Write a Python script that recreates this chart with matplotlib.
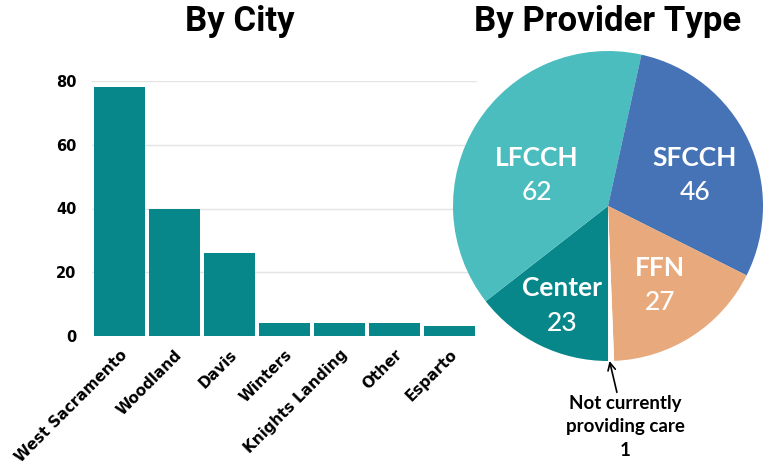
import numpy as np
import matplotlib.pyplot as plt

cities = ["West Sacramento", "Woodland", "Davis", "Winters", "Knights Landing", "Other", "Esparto"]
city_counts = [78, 40, 26, 4, 4, 4, 3]
city_ticks = [0, 20, 40, 60, 80]

provider_types = ["Center", "LFCCH", "SFCCH", "FFN", "Not currently\nproviding care"]
provider_counts = [23, 62, 46, 27, 1]

TEAL = "#07878a"
PIE_COLORS = ["#07878a", "#4bbdbf", "#4673b5", "#e8aa7d", "#ffffff"]

fig = plt.figure(figsize=(7.7, 4.68), dpi=100)
W, H = 770, 468


def px_axes(x0, y0, x1, y1):
    # pixel box (top-left origin) -> figure axes
    return fig.add_axes([x0 / W, 1 - y1 / H, (x1 - x0) / W, (y1 - y0) / H])


# --- bar chart ---
ax = px_axes(92, 81, 477, 336)
x = np.arange(len(cities))
ax.bar(x, city_counts, width=0.93, color=TEAL, zorder=3)
ax.set_xlim(-0.5, len(cities) - 0.5)
ax.set_ylim(0, 80)
ax.set_yticks(city_ticks)
ax.set_yticklabels([str(t) for t in city_ticks], fontsize=10.5, fontweight="bold",
                   family="DejaVu Sans")
ax.set_xticks(x)
ax.set_xticklabels(cities, rotation=45, ha="right", rotation_mode="anchor",
                   fontsize=11, fontweight="bold", family="DejaVu Sans")
ax.tick_params(axis="both", length=0)
ax.tick_params(axis="y", pad=11)
ax.tick_params(axis="x", pad=8)
ax.grid(axis="y", color="#e4e4e4", linewidth=1, zorder=0)
for s in ax.spines.values():
    s.set_visible(False)
fig.text(240 / W, 1 - 22 / H, "By City", ha="center", va="center",
         fontsize=25, fontweight="bold", family="Roboto")

# --- pie chart ---
pax = px_axes(608 - 155, 206 - 155, 608 + 155, 206 + 155)
wedges, _ = pax.pie(provider_counts, colors=PIE_COLORS, startangle=-90,
                    counterclock=False, radius=1.0,
                    wedgeprops=dict(linewidth=0))
pax.set_xlim(-1, 1)
pax.set_ylim(-1, 1)
pax.set_aspect("equal")

# label centres inside the wedges (pie units)
label_pos = [(-0.297, -0.64), (-0.458, 0.20), (0.561, 0.20), (0.335, -0.51)]
for name, val, (cx, cy) in zip(provider_types[:4], provider_counts[:4], label_pos):
    pax.text(cx, cy + 0.11, name, ha="center", va="center", color="white",
             fontsize=19, fontweight="bold", family="Lato")
    pax.text(cx, cy - 0.115, str(val), ha="center", va="center", color="white",
             fontsize=19, fontweight="medium", family="Lato")

w = wedges[4]
ang = np.deg2rad((w.theta1 + w.theta2) / 2)
pax.annotate(f"{provider_types[4]}\n{provider_counts[4]}",
             xy=(np.cos(ang) * 1.0 - 0.01, np.sin(ang) * 1.0),
             xytext=(0.11, -1.22), ha="center", va="top",
             fontsize=13.5, fontweight="bold", family="Lato", linespacing=1.45,
             arrowprops=dict(arrowstyle="->", color="black", lw=1.2,
                             shrinkA=0, shrinkB=0),
             annotation_clip=False)
fig.text(608 / W, 1 - 22 / H, "By Provider Type", ha="center", va="center",
         fontsize=25, fontweight="bold", family="Roboto")

fig.savefig("out.png", dpi=100)
